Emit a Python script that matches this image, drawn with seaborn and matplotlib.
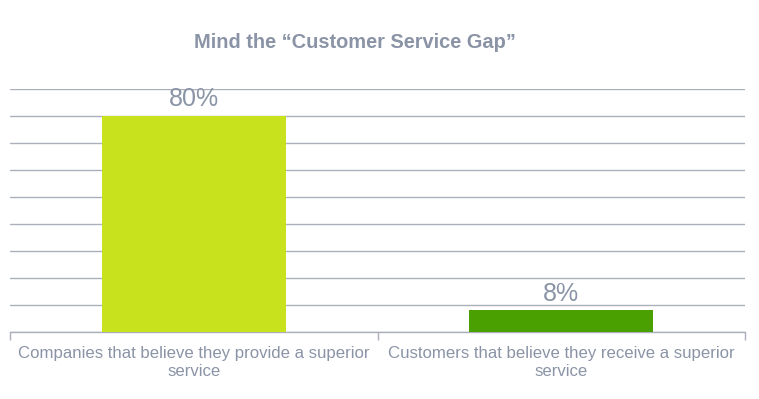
import pandas as pd
import matplotlib.pyplot as plt
import seaborn as sns

categories = ["Companies that believe they provide a superior\nservice",
              "Customers that believe they receive a superior\nservice"]
values = [80, 8]
bar_colors = ["#C8E31E", "#4AA000"]

text_gray = "#8A94A6"
grid_gray = "#ABAFBB"

sns.set_style("white")
plt.rcParams['font.family'] = ['Liberation Sans', 'DejaVu Sans']

df = pd.DataFrame({"category": categories, "value": values})

fig = plt.figure(figsize=(7.59, 3.99), dpi=100)
ax = fig.add_axes([10 / 759, 1 - 332 / 399, 735 / 759, 243 / 399])

sns.barplot(data=df, x="category", y="value", hue="category", palette=bar_colors,
            width=0.5, legend=False, ax=ax, zorder=3, saturation=1, linewidth=0)

ax.set_ylim(0, 90)
ax.set_xlim(-0.5, 1.5)
ax.set_yticks(range(0, 91, 10))
ax.yaxis.grid(True, color=grid_gray, linewidth=1)
ax.set_axisbelow(True)
ax.tick_params(axis="y", left=False, labelleft=False)

for side in ["top", "right", "left"]:
    ax.spines[side].set_visible(False)
ax.spines["bottom"].set_color(grid_gray)
ax.spines["bottom"].set_linewidth(1)

# category boundary ticks
ax.set_xticks([-0.5, 0.5, 1.5], minor=True)
ax.tick_params(axis="x", which="minor", length=6, color=grid_gray, width=1, bottom=True)
ax.tick_params(axis="x", which="major", length=0, labelsize=12.1, labelcolor=text_gray, pad=10)
for lbl in ax.get_xticklabels():
    lbl.set_linespacing(1.3)

for i, v in enumerate(values):
    ax.text(i, v + 1.8, f"{v}%", ha="center", va="bottom", fontsize=18, color=text_gray)

ax.set_xlabel("")
ax.set_ylabel("")
fig.text(355 / 759, 1 - 43 / 399, "Mind the \u201cCustomer Service Gap\u201d", ha="center", va="center",
         fontsize=14.4, fontweight="bold", color=text_gray)

fig.savefig("out.png", dpi=100)
